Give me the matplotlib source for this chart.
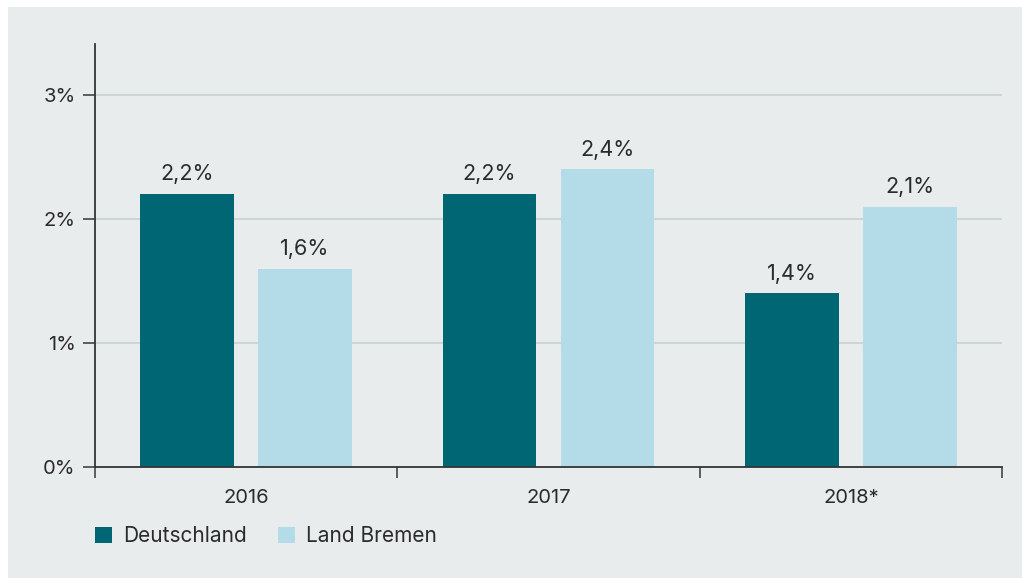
import matplotlib
matplotlib.use("Agg")
import matplotlib.pyplot as plt
from matplotlib.patches import Patch, Rectangle
import numpy as np

# Data
years = ["2016", "2017", "2018*"]
deutschland = [2.2, 2.2, 1.4]
bremen = [1.6, 2.4, 2.1]
series_names = ["Deutschland", "Land Bremen"]
y_ticks = [0, 1, 2, 3]
y_tick_labels = ["0%", "1%", "2%", "3%"]

DARK = "#006674"
LIGHT = "#b3dce8"
BG = "#e8ecec"
GRID = "#cdd5d5"
TEXT = "#2b2b2b"

plt.rcParams["font.family"] = ["Inter", "DejaVu Sans"]

fig = plt.figure(figsize=(10.22, 5.78), dpi=100)
fig.patch.set_facecolor("white")
# grey panel with thin white margin on top/left
fig.patches.append(Rectangle((8 / 1022, 0), 1, 1 - 7 / 578, transform=fig.transFigure,
                             facecolor=BG, edgecolor="none", zorder=-10))

ax = fig.add_axes([95 / 1022, 1 - 467 / 578, (1002 - 95) / 1022, (467 - 44) / 578])
ax.set_facecolor("none")

x = np.arange(len(years))
width = 0.31
offset = 0.195

bars1 = ax.bar(x - offset, deutschland, width, color=DARK, zorder=3)
bars2 = ax.bar(x + offset, bremen, width, color=LIGHT, zorder=3)

for bars in (bars1, bars2):
    for b in bars:
        val = b.get_height()
        ax.annotate(f"{val:.1f}%".replace(".", ","),
                    (b.get_x() + b.get_width() / 2, val),
                    xytext=(0, 7), textcoords="offset points",
                    ha="center", va="bottom", fontsize=15.5, color=TEXT)

ax.set_xlim(-0.5, 2.5)
ax.set_ylim(0, 3.41)

ax.set_yticks(y_ticks)
ax.set_yticklabels(y_tick_labels)
for yv in y_ticks[1:]:
    ax.axhline(yv, color=GRID, lw=1.5, zorder=1)

# category boundaries as major ticks, labels on minor ticks
ax.set_xticks([-0.5, 0.5, 1.5, 2.5])
ax.set_xticklabels([])
ax.set_xticks(x, minor=True)
ax.set_xticklabels(years, minor=True)
ax.tick_params(axis="x", which="major", length=8, width=1.2, color="#444444")
ax.tick_params(axis="x", which="minor", length=0, pad=16, labelsize=14.5, labelcolor=TEXT)
ax.tick_params(axis="y", length=9, width=1.2, color="#444444", labelsize=14.5,
               labelcolor=TEXT, pad=5)

for s in ("top", "right"):
    ax.spines[s].set_visible(False)
for s in ("left", "bottom"):
    ax.spines[s].set_color("#333333")
    ax.spines[s].set_linewidth(1.3)
    ax.spines[s].set_zorder(4)

handles = [Patch(facecolor=DARK, label=series_names[0]),
           Patch(facecolor=LIGHT, label=series_names[1])]
fig.legend(handles=handles, loc="center left", bbox_to_anchor=(95 / 1022, 1 - 536 / 578),
           ncol=2, frameon=False, fontsize=15, handlelength=0.8, handleheight=0.8,
           handletextpad=0.55, columnspacing=1.5, labelcolor=TEXT,
           borderpad=0, borderaxespad=0)

fig.savefig("out.png", dpi=100, facecolor=fig.get_facecolor())
